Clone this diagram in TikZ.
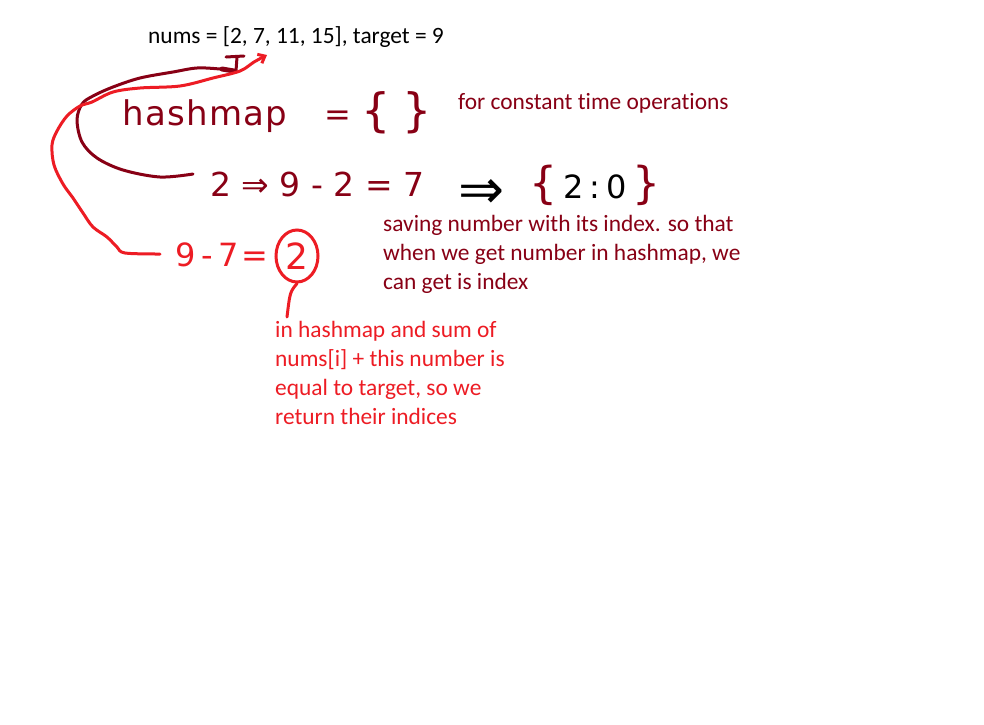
\documentclass[tikz,border=0pt]{standalone}
\usepackage{fontspec}
\setmainfont{Carlito}[Ligatures={NoCommon}]
\newfontfamily\handfont{DejaVu Sans}
\newfontfamily\handspread{DejaVu Sans}[LetterSpace=4]
\usetikzlibrary{arrows.meta,shapes.geometric}
\definecolor{dred}{HTML}{880015}
\definecolor{hred}{HTML}{ED1C24}
\begin{document}
\begin{tikzpicture}[x=1pt,y=-1pt,
  typed/.style={anchor=base west, inner sep=0pt, align=left,
    font=\fontsize{23.4}{29}\selectfont},
  handtxt/.style={anchor=base west, inner sep=0pt},
  stroke/.style={line width=3pt, line cap=round, line join=round},
]
\fill[white] (0,0) rectangle (984,724);
\useasboundingbox (0,0) rectangle (984,724);

% typed texts (multi-line nodes: base anchor = baseline of the last line)
\node[typed] (nums) at (148,43) {nums = [2, 7, 11, 15], target = 9};
\node[typed, text=dred] (const) at (458,109) {for constant time operations};
\node[typed, text=dred] (save) at (383,289) {saving number with its index. so that\\when we get number in hashmap, we\\can get is index};
\node[typed, text=hred] (ret) at (275,424) {in hashmap and sum of\\nums[i] + this number is\\equal to target, so we\\return their indices};

% handwritten line A
\node[handtxt, text=dred, font=\handspread\fontsize{34}{34}\selectfont] (hm) at (122,125) {hashmap};
\node[handtxt, anchor=base, text=dred, font=\handfont\fontsize{32}{32}\selectfont] (eqA) at (338,125) {=};
\node[handtxt, text=dred, font=\handfont\fontsize{46}{46}\selectfont] (brA) at (361,126) {\{\hspace{12pt}\}};

% handwritten line B
\node[handtxt, text=dred, font=\handfont\fontsize{33}{33}\selectfont] (lineB) at (210,196) {2 ⇒ 9 - 2 = 7};
\node[inner sep=0pt, font=\handfont\fontsize{55}{55}\selectfont] (bigarrow) at (482,194) {⇒};
\node[handtxt, font=\handfont\fontsize{32}{32}\selectfont] (pair) at (529,198)
  {{\fontsize{44}{44}\selectfont\textcolor{dred}{\{}}\hspace{6pt}2\hspace{6pt}:\hspace{6pt}0\hspace{6pt}{\fontsize{44}{44}\selectfont\textcolor{dred}{\}}}};

% handwritten line C
\node[handtxt, text=hred, font=\handfont\fontsize{32}{32}\selectfont] (lineC) at (175,266) {9\hspace{6pt}-\hspace{5pt}7\hspace{3pt}=};
\node[draw=hred, line width=3pt, ellipse, minimum width=42, minimum height=52, inner sep=0pt,
  text=hred, font=\handfont\fontsize{36}{36}\selectfont] (two) at (297,256) {2};

% coordinates
\coordinate (bStart) at (193,174);
\coordinate (ptrI) at (236,71);
\coordinate (cStart) at (160,254);
\coordinate (tip7) at (267,55);
\coordinate (tail) at (287,317);

% dark red loop from line B to the index pointer
\draw[stroke, dred] plot[smooth, tension=0.55] coordinates {
  (bStart) (160,177) (123,170) (97,158) (82,142) (77,120) (82,104) (93,96)
  (113,87) (140,78) (173,72) (197,68) (220,69) (ptrI)};
\draw[stroke, dred] (ptrI) -- (237,57);
\draw[stroke, dred] (226,57) -- (244,56);
\draw[stroke, dred, line width=5pt] (222,69) -- (234,71);

% red loop from line C to the 7 in nums
\draw[stroke, hred, -{Straight Barb[length=6pt,width=10pt]}] plot[smooth, tension=0.55] coordinates {
  (cStart) (125,253) (117,247) (107,237) (93,227) (83,213) (73,198) (63,184)
  (54,165) (52,145) (57,131) (67,116) (80,106) (92,102) (113,92) (140,88)
  (180,86) (213,78) (240,71) (254,62) (tip7)};

% red tail below the circled 2
\draw[stroke, hred] (two.south) .. controls (290,292) .. (tail);
\end{tikzpicture}
\end{document}
